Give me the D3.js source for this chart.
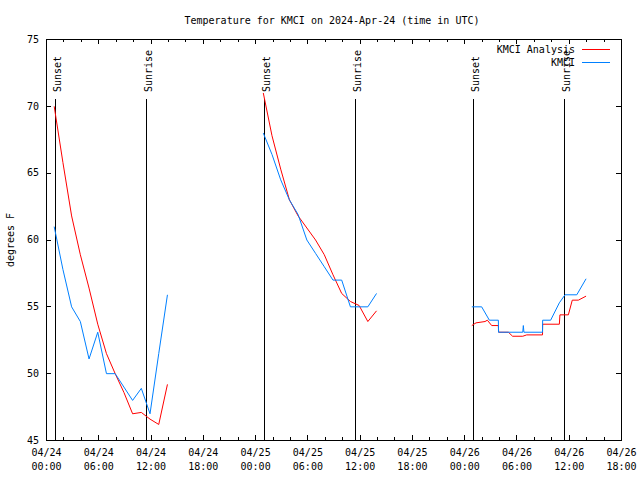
<!DOCTYPE html>
<html><head><meta charset="utf-8">
<script src="https://cdn.jsdelivr.net/npm/d3@7"></script>
<style>
html,body{margin:0;padding:0;background:#fff;}
svg{display:block;background:#fff;}
text{font-family:"DejaVu Sans Mono",monospace;font-size:10px;fill:#000;}
</style></head><body>
<svg id="chart" width="640" height="480"></svg>
<script>
const title = "Temperature for KMCI on 2024-Apr-24 (time in UTC)";
const yLabel = "degrees F";
const seriesNames = ["KMCI Analysis", "KMCI"];
const seriesColors = ["#ff0000", "#0080ff"];
const yTicks = [45, 50, 55, 60, 65, 70, 75];
const xDomain = ["2024-04-24 00:00", "2024-04-26 18:00"];

const analysisTimes = [
  "2024-04-24 00:53","2024-04-24 01:53","2024-04-24 02:53","2024-04-24 03:53","2024-04-24 04:53",
  "2024-04-24 05:53","2024-04-24 06:53","2024-04-24 07:53","2024-04-24 08:53","2024-04-24 09:53",
  "2024-04-24 10:53","2024-04-24 11:53","2024-04-24 12:53","2024-04-24 13:53",
  "2024-04-25 00:53","2024-04-25 01:53","2024-04-25 02:53","2024-04-25 03:53","2024-04-25 04:53",
  "2024-04-25 05:53","2024-04-25 06:53","2024-04-25 07:53","2024-04-25 08:53","2024-04-25 09:53",
  "2024-04-25 10:53","2024-04-25 11:53","2024-04-25 12:53","2024-04-25 13:53",
  "2024-04-26 00:49","2024-04-26 01:18","2024-04-26 02:20","2024-04-26 02:36","2024-04-26 03:06",
  "2024-04-26 03:52","2024-04-26 03:54","2024-04-26 05:01","2024-04-26 05:30","2024-04-26 06:40",
  "2024-04-26 07:07","2024-04-26 08:56","2024-04-26 08:57","2024-04-26 10:52","2024-04-26 10:56",
  "2024-04-26 11:54","2024-04-26 12:21","2024-04-26 13:03","2024-04-26 13:56"
];
const analysisTemps = [
  70.0, 65.8, 61.8, 58.9, 56.4, 53.7, 51.5, 50.0, 48.6, 47.0, 47.1, 46.6, 46.2, 49.2,
  71.0, 67.8, 65.3, 63.0, 61.8, 60.9, 60.0, 58.9, 57.4, 56.0, 55.4, 55.1, 53.9, 54.7,
  53.6, 53.8, 53.9, 54.0, 53.6, 53.6, 53.1, 53.1, 52.8, 52.8, 52.9, 52.9, 53.7, 53.7, 54.4,
  54.4, 55.5, 55.5, 55.8
];

const obsTimes = [
  "2024-04-24 00:53","2024-04-24 01:53","2024-04-24 02:53","2024-04-24 03:53","2024-04-24 04:53",
  "2024-04-24 05:53","2024-04-24 06:53","2024-04-24 07:53","2024-04-24 08:53","2024-04-24 09:53",
  "2024-04-24 10:53","2024-04-24 11:53","2024-04-24 12:53","2024-04-24 13:53",
  "2024-04-25 00:53","2024-04-25 01:53","2024-04-25 02:53","2024-04-25 03:53","2024-04-25 04:53",
  "2024-04-25 05:53","2024-04-25 06:53","2024-04-25 07:53","2024-04-25 08:53","2024-04-25 09:53",
  "2024-04-25 10:53","2024-04-25 11:53","2024-04-25 12:53","2024-04-25 13:53",
  "2024-04-26 00:49","2024-04-26 01:57","2024-04-26 02:50","2024-04-26 03:52","2024-04-26 03:53",
  "2024-04-26 06:40","2024-04-26 06:44","2024-04-26 06:48","2024-04-26 08:56","2024-04-26 08:57",
  "2024-04-26 09:52","2024-04-26 10:52","2024-04-26 11:31","2024-04-26 12:52","2024-04-26 13:56"
];
const obsTemps = [
  61.0, 57.8, 55.0, 53.9, 51.1, 53.1, 50.0, 50.0, 49.0, 48.0, 48.9, 47.0, 51.5, 55.9,
  68.0, 66.4, 64.5, 63.0, 61.9, 60.0, 59.0, 58.0, 57.0, 57.0, 55.0, 55.0, 55.0, 56.0,
  55.0, 55.0, 54.0, 54.0, 53.1, 53.1, 53.6, 53.1, 53.1, 54.0, 54.0, 55.3, 55.9, 55.9, 57.1
];

const sunTimes = ["2024-04-24 01:00","2024-04-24 11:26","2024-04-25 01:01","2024-04-25 11:25","2024-04-26 01:02","2024-04-26 11:24"];
const sunLabels = ["Sunset","Sunrise","Sunset","Sunrise","Sunset","Sunrise"];

const parse = d3.utcParse("%Y-%m-%d %H:%M");
const svg = d3.select("#chart");
const x = d3.scaleUtc().domain(xDomain.map(parse)).range([46, 621]);
const y = d3.scaleLinear().domain([45, 75]).range([440, 39]);
const L = 46.5, R = 621.5, T = 39.5, B = 440.5;

svg.append("rect").attr("width", 640).attr("height", 480).attr("fill", "#fff");

// ticks
const majorX = d3.utcHour.every(6).range(x.domain()[0], new Date(x.domain()[1].getTime() + 1));
const minorX = d3.utcHour.every(2).range(x.domain()[0], new Date(x.domain()[1].getTime() + 1))
  .filter(d => d.getUTCHours() % 6 !== 0);
const fmtD = d3.utcFormat("%m/%d"), fmtT = d3.utcFormat("%H:%M");

const gB = svg.append("g").attr("transform", `translate(0,${B - 0.5})`)
  .call(d3.axisBottom(x).tickValues(majorX).tickSizeInner(-5).tickSizeOuter(0).tickPadding(7).tickFormat(""));
gB.selectAll(".tick").append("text")
  .attr("text-anchor", "middle").attr("fill", "#000")
  .each(function(d) {
    const t = d3.select(this);
    t.append("tspan").attr("x", 0).attr("y", 16).text(fmtD(d));
    t.append("tspan").attr("x", 0).attr("y", 30).text(fmtT(d));
  });
svg.append("g").attr("transform", `translate(0,${B - 0.5})`)
  .call(d3.axisBottom(x).tickValues(minorX).tickSizeInner(-3).tickSizeOuter(0).tickFormat(""));
svg.append("g").attr("transform", `translate(0,${T - 0.5})`)
  .call(d3.axisTop(x).tickValues(majorX).tickSizeInner(-5).tickSizeOuter(0).tickFormat(""));
svg.append("g").attr("transform", `translate(0,${T - 0.5})`)
  .call(d3.axisTop(x).tickValues(minorX).tickSizeInner(-3).tickSizeOuter(0).tickFormat(""));

svg.append("g").attr("transform", `translate(${L - 0.5},0)`)
  .call(d3.axisLeft(y).tickValues(yTicks).tickSizeInner(-5).tickSizeOuter(0).tickPadding(7).tickFormat(d3.format("d")));
svg.append("g").attr("transform", `translate(${R - 0.5},0)`)
  .call(d3.axisRight(y).tickValues(yTicks).tickSizeInner(-5).tickSizeOuter(0).tickFormat(""));

svg.selectAll(".domain").remove();
svg.selectAll(".tick line").attr("stroke", "#000").attr("shape-rendering", "crispEdges");
svg.selectAll(".tick text").attr("font-family", "DejaVu Sans Mono").attr("font-size", 10);

// frame
svg.append("rect").attr("x", L).attr("y", T).attr("width", R - L).attr("height", B - T)
  .attr("fill", "none").attr("stroke", "#000").attr("shape-rendering", "crispEdges");

// sunrise / sunset
const sun = svg.append("g");
sunTimes.forEach((s, i) => {
  const xp = Math.round(x(parse(s))) + 0.5;
  sun.append("line").attr("x1", xp).attr("x2", xp).attr("y1", 99).attr("y2", B)
    .attr("stroke", "#000").attr("shape-rendering", "crispEdges");
  sun.append("text").attr("transform", `translate(${xp + 5},92) rotate(-90)`)
    .attr("text-anchor", "start").text(sunLabels[i]);
});

// series
function segments(times, vals) {
  const pts = times.map((t, i) => ({t: parse(t), v: vals[i]}));
  const out = [];
  pts.forEach((p, i) => {
    if (i > 0 && (p.t - pts[i - 1].t) > 4 * 3600e3) out.push(null);
    out.push(p);
  });
  return out;
}
const line = d3.line().defined(d => d !== null).x(d => x(d.t) + 0.5).y(d => y(d.v) + 0.5);
svg.append("path").datum(segments(analysisTimes, analysisTemps))
  .attr("d", line).attr("fill", "none").attr("stroke", seriesColors[0]).attr("stroke-width", 1);
svg.append("path").datum(segments(obsTimes, obsTemps))
  .attr("d", line).attr("fill", "none").attr("stroke", seriesColors[1]).attr("stroke-width", 1);

// legend
const leg = svg.append("g");
seriesNames.forEach((n, i) => {
  const yy = 49.5 + i * 13;
  leg.append("text").attr("x", 575).attr("y", yy + 3.5).attr("text-anchor", "end").text(n);
  leg.append("line").attr("x1", 582).attr("x2", 610).attr("y1", yy).attr("y2", yy)
    .attr("stroke", seriesColors[i]).attr("shape-rendering", "crispEdges");
});

// title & y label
svg.append("text").attr("x", 332).attr("y", 24).attr("text-anchor", "middle").text(title);
svg.append("text").attr("transform", "translate(14,240) rotate(-90)").attr("text-anchor", "middle").text(yLabel);
</script>
</body></html>
